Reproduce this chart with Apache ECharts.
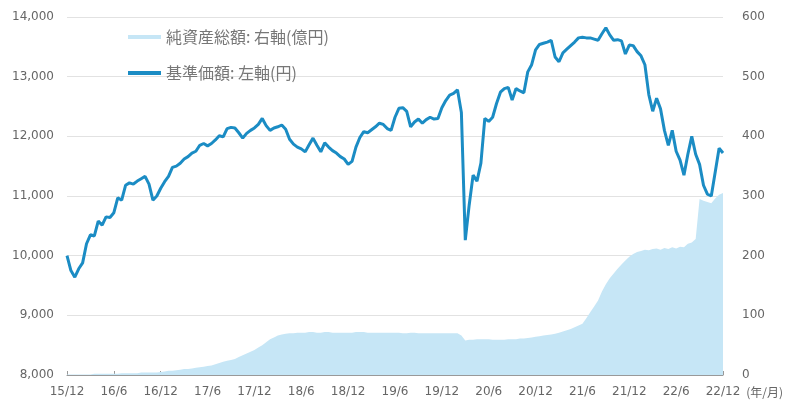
<!DOCTYPE html>
<html>
<head>
<meta charset="utf-8">
<script src="https://cdn.jsdelivr.net/npm/echarts@6/dist/echarts.min.js"></script>
<style>html,body{margin:0;padding:0;background:#fff}#c{width:802px;height:403px}</style>
</head>
<body>
<div id="c"></div>
<script>
// Tick labels every 6 months (12 half-month steps)
const tickLabels = ['15/12','16/6','16/12','17/6','17/12','18/6','18/12','19/6','19/12','20/6','20/12','21/6','21/12','22/6','22/12'];

// Half-month categories, Dec 2015 .. Dec 2022
const categories = [];
for (let y = 2015, m = 12, k = 0; categories.length < 169; k++) {
  categories.push(y + '/' + m + (k % 2 === 0 ? '/1' : '/16'));
  if (k % 2 === 1) { m++; if (m > 12) { m = 1; y++; } }
}

// 基準価額 (円) – left axis
const navValues = [
 10000,9750,9640,9780,9880,10200,10350,10330,10580,10510,
 10650,10640,10720,10970,10930,11180,11220,11200,11250,11290,
 11330,11200,10930,11000,11130,11240,11330,11480,11500,11550,
 11620,11660,11720,11750,11850,11880,11840,11880,11940,12010,
 11990,12130,12150,12140,12060,11970,12050,12100,12140,12200,
 12300,12180,12100,12140,12160,12190,12120,11950,11870,11820,
 11790,11740,11860,11970,11850,11740,11890,11820,11760,11720,
 11660,11620,11530,11580,11820,11980,12080,12060,12110,12160,
 12220,12200,12130,12100,12320,12470,12480,12420,12160,12240,
 12290,12220,12280,12320,12290,12300,12480,12600,12690,12720,
 12780,12400,10260,10850,11350,11250,11550,12300,12250,12320,
 12550,12740,12800,12820,12610,12800,12760,12730,13080,13200,
 13450,13540,13560,13580,13610,13330,13250,13400,13460,13520,
 13580,13650,13660,13650,13650,13630,13610,13720,13820,13700,
 13610,13620,13600,13380,13530,13520,13420,13350,13200,12700,
 12420,12640,12460,12100,11850,12100,11750,11600,11350,11700,
 12000,11700,11530,11180,11030,11000,11400,11800,11720
];

// 純資産総額 (億円) – right axis
const assetValues = [
 1,1,1,1,1,1,1,2,2,2,
 2,2,2,2,3,3,3,3,3,4,
 4,4,4,4,5,6,7,7,8,9,
 10,10,11,12,13,14,15,16,18,20,
 22,24,25,27,30,33,36,39,42,46,
 50,55,60,63,66,68,69,70,70,71,
 71,71,72,72,71,71,72,72,71,71,
 71,71,71,71,72,72,72,71,71,71,
 71,71,71,71,71,71,70,70,71,71,
 70,70,70,70,70,70,70,70,70,70,
 70,66,58,59,59,60,60,60,60,59,
 59,59,59,60,60,60,61,61,62,63,
 64,65,66,67,68,69,71,73,75,77,
 80,83,86,95,105,115,125,140,152,162,
 170,178,185,192,198,203,206,208,210,209,
 211,212,210,213,211,214,212,215,214,220,
 222,228,295,292,290,288,296,302,305
];

const chart = echarts.init(document.getElementById('c'), null, {renderer: 'canvas'});
const cjk = '"Noto Sans CJK JP", "Noto Sans", sans-serif';
const num = '"DejaVu Sans", sans-serif';
chart.setOption({
  animation: false,
  backgroundColor: '#fff',
  textStyle: {fontFamily: num},
  grid: {left: 67, right: 79, top: 17, bottom: 28, containLabel: false},
  legend: {
    orient: 'vertical', left: 123, top: 24, itemGap: 20,
    itemWidth: 33, itemHeight: 4, icon: 'rect',
    textStyle: {color: '#777', fontSize: 16, fontFamily: cjk},
    data: ['純資産総額: 右軸(億円)', '基準価額: 左軸(円)']
  },
  xAxis: {
    type: 'category', data: categories, boundaryGap: false,
    name: '(年/月)', nameLocation: 'end', nameGap: 10,
    nameTextStyle: {color: '#666', fontSize: 12, fontFamily: cjk, align: 'left', verticalAlign: 'top', padding: [11, 0, 0, 0]},
    axisLine: {lineStyle: {color: '#999', width: 1}},
    axisTick: {interval: (i) => i % 12 === 0, inside: true, length: 4, lineStyle: {color: '#999'}},
    axisLabel: {interval: (i) => i % 12 === 0, color: '#666', fontSize: 12, margin: 11, fontFamily: num,
      formatter: (v, i) => tickLabels[Math.round(i / 12)]},
    splitLine: {show: false}
  },
  yAxis: [
    {type: 'value', min: 8000, max: 14000, interval: 1000, position: 'left',
     axisLine: {show: false}, axisTick: {show: false},
     axisLabel: {color: '#666', fontSize: 12, margin: 13, fontFamily: num,
       formatter: (v) => v.toLocaleString('en-US')},
     splitLine: {lineStyle: {color: '#e2e2e2', width: 1}}},
    {type: 'value', min: 0, max: 600, interval: 100, position: 'right',
     axisLine: {show: false}, axisTick: {show: false},
     axisLabel: {color: '#666', fontSize: 12, margin: 19, fontFamily: num},
     splitLine: {show: false}}
  ],
  series: [
    {name: '純資産総額: 右軸(億円)', type: 'line', yAxisIndex: 1, data: assetValues,
     showSymbol: false, symbol: 'none', lineStyle: {width: 0, color: '#c6e6f6'},
     itemStyle: {color: '#c6e6f6'}, areaStyle: {color: '#c6e6f6', opacity: 1}, z: 1},
    {name: '基準価額: 左軸(円)', type: 'line', yAxisIndex: 0, data: navValues,
     showSymbol: false, symbol: 'none', lineStyle: {width: 3, color: '#1b8cc4'},
     itemStyle: {color: '#1b8cc4'}, z: 3}
  ]
});
</script>
</body>
</html>
